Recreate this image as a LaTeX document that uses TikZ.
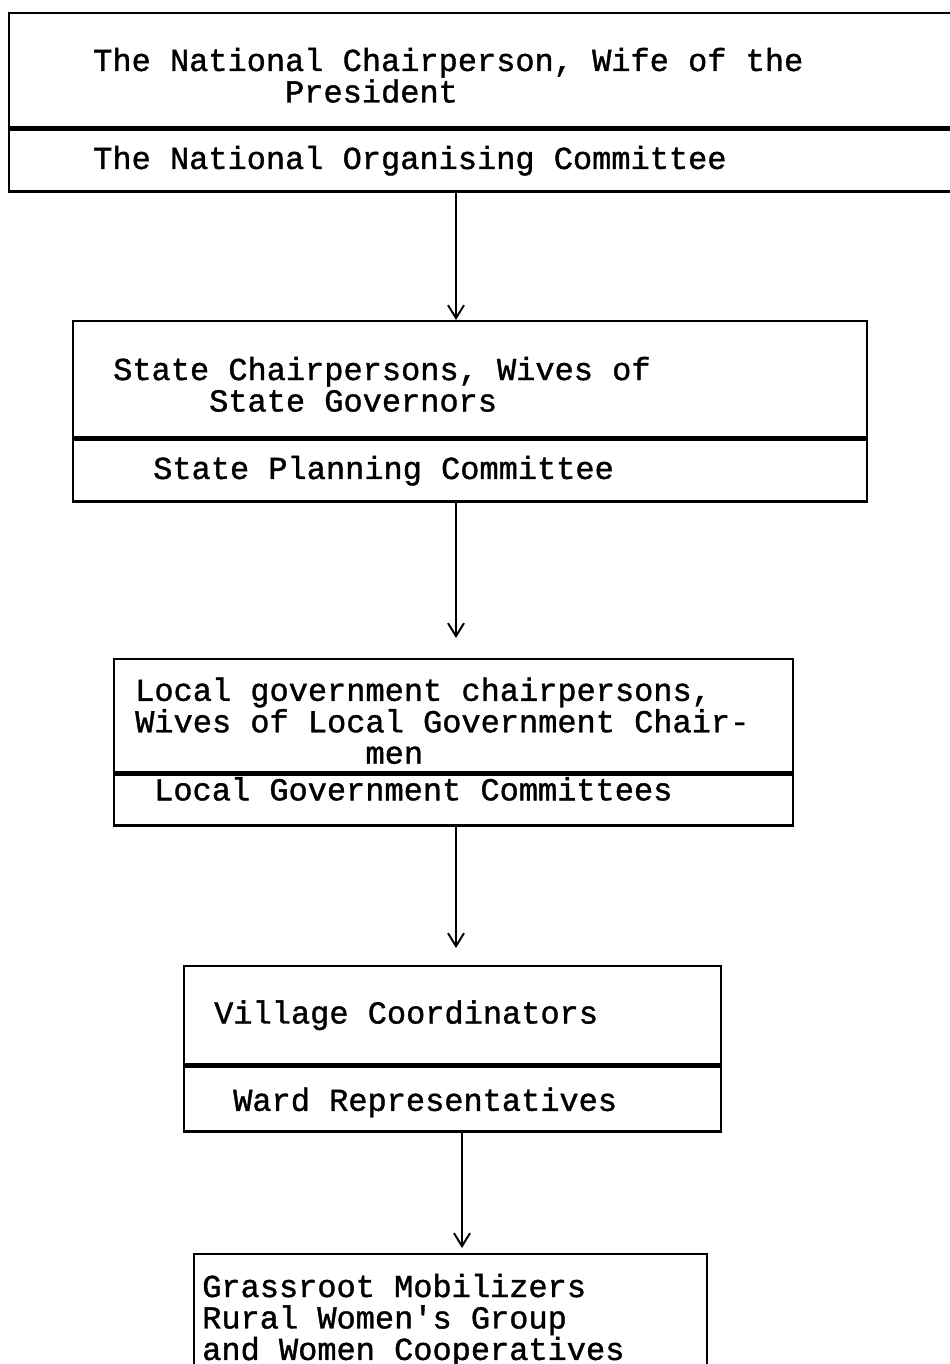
\documentclass[tikz,border=0pt]{standalone}
\usepackage{fontspec}
\setmonofont{Liberation Mono}[FakeBold=1.2]
\usepackage{tikz}
\usetikzlibrary{arrows.meta,positioning}

% extra room above the first line / below the last line of a box text
\newcommand\roomabove[1]{\rule{0pt}{#1}}
\newcommand\roombelow[1]{\rule[-#1]{0pt}{#1}}
% one full letter cell between words
\newcommand\cellgap{\spaceskip=10.92pt\relax}

\tikzset{
  part/.style={draw, line width=1.4pt, rectangle, inner sep=0pt, align=left,
               font=\ttfamily\fontsize{18.2}{17.9}\selectfont,
               execute at begin node=\cellgap},
  flow/.style={line width=1.1pt, -{Straight Barb[length=2.6mm,width=3.2mm,line width=1.1pt]}}
}

\begin{document}
\begin{tikzpicture}[node distance=0pt]
\useasboundingbox (0,0) rectangle (19,-27.28);
\coordinate (spine) at (9.12,0);
\coordinate (spinelow) at (9.24,0);

% national level
\node[part, anchor=north west, minimum width=18.98cm, minimum height=2.28cm, text width=15.62cm]
  (natchair) at (0.16,-0.24)
  {\roomabove{19pt}The National Chairperson, Wife of the\\\hspace*{6em}President};
\node[part, below=of natchair, minimum width=18.98cm, minimum height=1.24cm, text width=15.62cm]
  (natcomm) {The National Organising Committee};

% state level
\node[part, anchor=north west, minimum width=15.88cm, minimum height=2.32cm, text width=14.28cm]
  (statechair) at (1.44,-6.40)
  {\roomabove{19pt}State Chairpersons, Wives of\\\hspace*{3em}State Governors};
\node[part, below=of statechair, minimum width=15.88cm, minimum height=1.24cm, text width=12.68cm]
  (statecomm) {State Planning Committee};

% local government level
\node[part, anchor=north west, minimum width=13.58cm, minimum height=2.26cm, text width=12.74cm]
  (lgchair) at (2.26,-13.16)
  {\roomabove{19pt}Local government chairpersons,\\Wives of Local Government Chair-\\\hspace*{7.2em}men};
\node[part, below=of lgchair, minimum width=13.58cm, minimum height=1.02cm, text width=11.98cm]
  (lgcomm) {Local Government Committees\roombelow{13pt}};

% village level
\node[part, anchor=north west, minimum width=10.74cm, minimum height=1.96cm, text width=9.54cm]
  (village) at (3.66,-19.30)
  {Village Coordinators};
\node[part, below=of village, minimum width=10.74cm, minimum height=1.30cm, text width=8.78cm]
  (ward) {\roomabove{17pt}Ward Representatives};

% grassroot level
\node[part, anchor=north west, minimum width=10.26cm, minimum height=2.54cm, text width=9.94cm]
  (grass) at (3.86,-25.06)
  {\roomabove{16pt}Grassroot Mobilizers\\Rural Women's Group\\and Women Cooperatives};

\draw[flow] (natcomm.south -| spine) -- (statechair.north -| spine);
\draw[flow, shorten >=0.4cm] (statecomm.south -| spine) -- (lgchair.north -| spine);
\draw[flow, shorten >=0.34cm] (lgcomm.south -| spine) -- (village.north -| spine);
\draw[flow, shorten >=0.1cm] (ward.south -| spinelow) -- (grass.north -| spinelow);
\end{tikzpicture}
\end{document}
